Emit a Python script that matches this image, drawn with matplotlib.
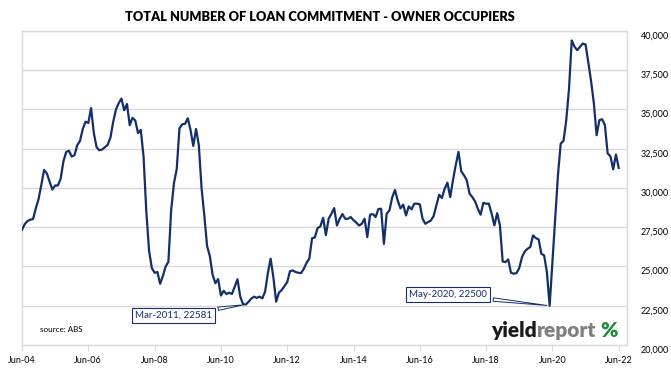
import numpy as np
import matplotlib
matplotlib.use("Agg")
import matplotlib.pyplot as plt
from matplotlib.transforms import ScaledTranslation

# monthly loan commitments, owner occupiers, Jun-2004 .. Jun-2022
commitments = [
    27340, 27700, 27900, 27980, 28020, 28700, 29300, 30200, 31150, 30930, 30400, 29900,  # Jun04-May05
    30160, 30160, 30600, 31700, 32300, 32370, 32000, 32090, 32730, 33000, 33760, 34230,  # Jun05-May06
    34140, 35090, 33500, 32600, 32400, 32450, 32600, 32750, 33200, 34200, 35000, 35400,  # Jun06-May07
    35700, 34950, 35350, 34000, 34470, 34300, 33500, 33700, 32000, 28500, 26000, 24900,  # Jun07-May08
    24600, 24650, 23900, 24400, 25000, 25300, 28600, 30300, 31200, 33800, 34060, 34080,  # Jun08-May09
    34440, 33700, 32680, 33760, 32740, 30000, 28240, 26300, 25660, 24470, 23940, 24200,  # Jun09-May10
    23150, 23450, 23250, 23330, 23250, 23720, 24190, 23080, 22600, 22581, 22750, 22950,  # Jun10-May11
    23080, 23000, 23080, 22970, 23400, 24580, 25500, 24300, 22760, 23330, 23500, 23750,  # Jun11-May12
    24000, 24700, 24750, 24650, 24600, 24580, 24850, 25230, 25500, 26800, 26850, 27450,  # Jun12-May13
    27550, 28100, 27000, 28040, 28360, 28720, 27610, 28040, 28340, 28040, 28040, 28150,  # Jun13-May14
    27950, 27800, 27610, 27720, 28040, 26870, 28300, 28340, 28150, 28660, 28680, 26440,  # Jun14-May15
    28360, 28570, 29400, 29870, 29210, 28700, 28940, 28250, 28830, 28640, 29000, 29000,  # Jun15-May16
    28960, 28040, 27720, 27830, 27930, 28210, 28890, 29570, 29360, 29960, 30340, 29420,  # Jun16-May17
    30490, 31450, 32300, 31060, 30810, 30490, 29640, 29420, 29150, 28680, 28300, 29060,  # Jun17-May18
    29000, 29000, 28360, 27620, 28400, 27620, 25320, 25280, 25450, 24600, 24540, 24580,  # Jun18-May19
    24900, 25600, 25960, 26130, 26240, 26980, 26810, 26730, 25810, 25710, 24640, 22500,  # Jun19-May20
    25300, 28200, 30800, 32830, 33000, 34300, 36300, 39400, 39000, 38780, 39000, 39200,  # Jun20-May21
    39140, 38000, 36800, 35400, 33360, 34320, 34380, 34000, 32200, 32020, 31190, 32130,  # Jun21-May22
    31280,                                                                                # Jun22
]
tick_labels = ["Jun-04", "Jun-06", "Jun-08", "Jun-10", "Jun-12",
               "Jun-14", "Jun-16", "Jun-18", "Jun-20", "Jun-22"]
y_ticks = [20000, 22500, 25000, 27500, 30000, 32500, 35000, 37500, 40000]

# labelled points: (month index, label)
callouts = [(81, "Mar-2011, 22581"), (191, "May-2020, 22500")]

navy = "#132f6b"
grid_col = "#d9d9d9"
font = "Lato"

months = np.arange(len(commitments))

fig = plt.figure(figsize=(6.71, 3.68), dpi=100)
ax = fig.add_axes([22 / 671, 23 / 368, 605 / 671, 314 / 368])

ax.plot(months, commitments, color=navy, lw=1.6, zorder=3)

ax.set_xlim(0, 219)
ax.set_ylim(20000, 40000)
ax.set_yticks(y_ticks)
ax.set_yticklabels([f"{v:,}" for v in y_ticks], fontsize=6.5, family=font)
ax.yaxis.tick_right()
ax.tick_params(axis="y", length=0, pad=10)
for lab in ax.get_yticklabels():
    lab.set_transform(lab.get_transform() + ScaledTranslation(0, -4 / 100, fig.dpi_scale_trans))

ax.set_xticks(np.arange(0, len(commitments), 24))
ax.set_xticklabels(tick_labels, fontsize=6.5, family=font)
ax.tick_params(axis="x", length=4, color=grid_col, pad=4)

ax.grid(axis="y", color=grid_col, lw=1)
ax.set_axisbelow(True)
for s in ax.spines.values():
    s.set_color(grid_col)
    s.set_linewidth(1)

fig.text(0.477, 0.953, "TOTAL NUMBER OF LOAN COMMITMENT - OWNER OCCUPIERS",
         ha="center", va="center", fontsize=9.2, fontweight="heavy", family=font)

# data label callouts
offsets = [(-52, -8), (-73, 8)]
for (m, txt), (dx, dy) in zip(callouts, offsets):
    ax.annotate(txt, xy=(m, commitments[m]), xytext=(dx, dy), textcoords="offset points",
                ha="center", va="center", fontsize=7, family=font, color=navy,
                bbox=dict(boxstyle="square,pad=0.3", fc="white", ec=navy, lw=0.8),
                arrowprops=dict(arrowstyle="wedge,tail_width=0.35", fc="white", ec=navy, lw=0.7),
                zorder=5)

ax.text(0.03, 0.04, "source: ABS", transform=ax.transAxes, fontsize=5.8, family=font)

# yieldreport logo
t1 = ax.text(0.775, 0.025, "yield", transform=ax.transAxes, fontsize=15, fontweight="heavy",
             family=font, color="#1a1a1a")
t2 = ax.annotate("report", xy=(1, 0), xycoords=t1, fontsize=15, fontweight="heavy",
                 family=font, color="#7f7f7f", va="bottom")
ax.annotate("%", xy=(1, 0), xycoords=t2, xytext=(3, 0), textcoords="offset points",
            fontsize=15, fontweight="heavy", family=font, color="#1e8a3c", va="bottom")

fig.savefig("out.png", dpi=100)
